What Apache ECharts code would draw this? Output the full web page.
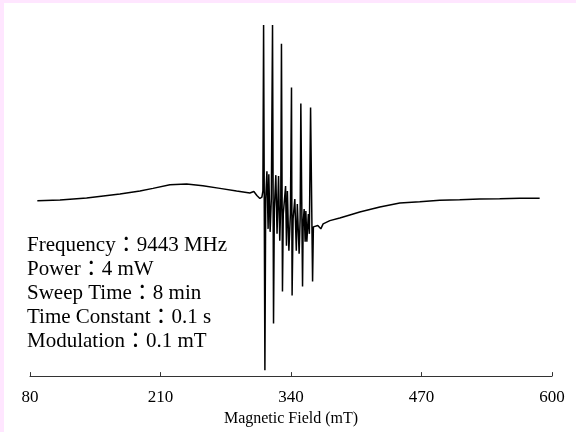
<!DOCTYPE html>
<html>
<head>
<meta charset="utf-8">
<script src="https://cdn.jsdelivr.net/npm/echarts@6/dist/echarts.min.js"></script>
<style>
html,body{margin:0;padding:0;width:576px;height:432px;background:#ffe6ff;overflow:hidden;}
#c{position:absolute;left:4px;top:3px;width:572px;height:429px;background:#fff;}
</style>
</head>
<body>
<div id="c"></div>
<script>
// Magnetic field (mT)
const fieldMT = [
  87.3,109.9,136.4,169.6,189.5,202.5,219.4,236.0,252.2,269.2,285.8,299.0,
  303.0,306.0,309.0,311.0,312.0,312.7,314.0,314.8,316.0,317.2,317.9,319.2,320.4,
  321.6,322.6,323.4,324.9,326.1,327.6,328.8,329.8,330.5,331.5,332.3,
  334.6,335.5,336.4,337.9,339.4,340.5,341.1,342.1,
  343.8,345.3,346.3,348.1,349.1,349.8,351.5,352.1,
  353.1,354.1,354.8,355.8,357.3,358.3,359.5,361.5,362.3,
  363.7,366.7,369.7,372.0,378.7,388.6,398.6,408.5,428.5,448.4,468.3,488.2,508.1,528.0,547.9,567.8,587.7
];
// EPR signal intensity (arbitrary units)
const intensity = [
  -1.7,-1,1,5,8,10.7,14.3,15,13.3,10.7,8,6,
  7.5,3.5,0.5,2,8,175,-172,0,28,-30,25,-33,0,
  175,-125,-10,24,-35,23,-42,-5,156,-93,-15,
  13,-47,8,-52,-15,112,-97,-20,
  0,-52,-5,-55,-20,96,-88,-25,
  -10,-43,-12,-43,-15,-35,92,-83,-28,
  -30,-26.7,-30,-25,-21.7,-19,-16,-13,-8,-4,-2.7,-1.3,-0.7,0,0.3,0.7,0.7
];
const tickValues = [80, 210, 340, 470, 600];
const axisTitle = 'Magnetic Field (mT)';
const infoLines = [
  'Frequency：9443 MHz',
  'Power：4 mW',
  'Sweep Time：8 min',
  'Time Constant：0.1 s',
  'Modulation：0.1 mT'
];

const serif = '"Liberation Serif", "Noto Sans CJK JP", serif';
const chart = echarts.init(document.getElementById('c'), null, {renderer: 'canvas'});
const data = fieldMT.map((x, i) => [x, intensity[i]]);

chart.setOption({
  animation: false,
  backgroundColor: '#fff',
  grid: {left: 26, top: 7, width: 522, height: 368, containLabel: false},
  xAxis: {
    type: 'value', min: 80, max: 600,
    name: axisTitle, nameLocation: 'middle', nameGap: 30,
    nameTextStyle: {fontFamily: serif, fontSize: 16, color: '#000'},
    axisLine: {show: true, onZero: false, lineStyle: {color: '#333', width: 1}},
    axisTick: {show: true, inside: true, length: 4, customValues: tickValues, lineStyle: {color: '#333'}},
    axisLabel: {customValues: tickValues, margin: 13, fontFamily: serif, fontSize: 17, color: '#000'},
    splitLine: {show: false}
  },
  yAxis: {
    type: 'value', min: -178, max: 190, show: false,
    splitLine: {show: false}
  },
  series: [{
    type: 'line', data: data, symbol: 'none', showSymbol: false,
    lineStyle: {color: '#000', width: 1.5},
    clip: false
  }],
  graphic: infoLines.map((t, i) => ({
    type: 'text', x: 23, y: 242 + i * 24,
    style: {text: t, fill: '#000', fontSize: 21, fontFamily: serif, verticalAlign: 'middle', align: 'left'}
  }))
});
</script>
</body>
</html>
